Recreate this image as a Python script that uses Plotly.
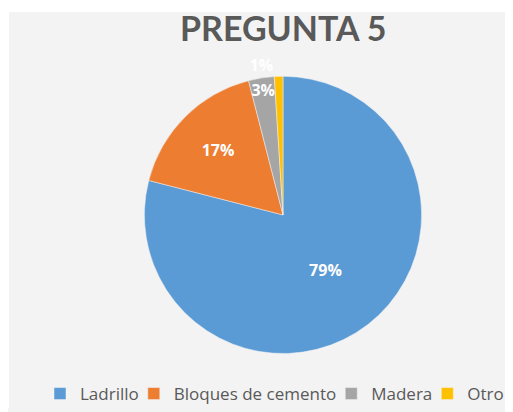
import plotly.graph_objects as go

categorias = ["Ladrillo", "Bloques de cemento", "Madera", "Otro"]
valores = [79, 17, 3, 1]
colores = ["#5B9BD5", "#ED7D31", "#A5A5A5", "#FFC000"]

# the page body adds an 8px margin, so the figure is 8px smaller than the window
W, H = 505, 404

fig = go.Figure()
fig.add_trace(go.Pie(
    labels=categorias,
    values=valores,
    sort=False,
    direction="clockwise",
    rotation=0,
    marker=dict(colors=colores, line=dict(color="#f2f2f2", width=0.5)),
    textinfo="percent",
    texttemplate="%{percent:.0%}",
    textposition=["inside", "inside", "inside", "outside"],
    insidetextorientation="horizontal",
    textfont=dict(family="Open Sans", size=16, color="white", weight="bold"),
    domain=dict(x=[135 / W, 415 / W], y=[1 - 349 / H, 1 - 69 / H]),
    hoverinfo="label+percent",
))

fig.update_layout(
    width=W, height=H,
    margin=dict(l=0, r=0, t=0, b=0),
    paper_bgcolor="#f3f3f3",
    font=dict(family="Open Sans", color="#595959"),
    uniformtext=dict(minsize=16, mode="show"),
    showlegend=True,
    legend=dict(
        orientation="h",
        x=42 / W, xanchor="left",
        y=1 - 390 / H, yanchor="middle",
        font=dict(size=17, color="#595959"),
        itemwidth=30,
        indentation=-10,
        bgcolor="rgba(0,0,0,0)",
    ),
    annotations=[dict(
        text="<b>PREGUNTA 5</b>",
        x=275 / W, y=1 - 20 / H, xref="paper", yref="paper",
        xanchor="center", yanchor="middle", showarrow=False,
        font=dict(family="Lato", size=34, color="#595959"),
    )],
    shapes=[
        # white strip above and to the left of the chart area
        dict(type="rect", xref="paper", yref="paper", x0=0, x1=1, y0=1 - 4 / H, y1=1,
             fillcolor="white", line_width=0, layer="below"),
        dict(type="rect", xref="paper", yref="paper", x0=0, x1=1 / W, y0=0, y1=1,
             fillcolor="white", line_width=0, layer="below"),
    ],
)

fig.write_html("out.html")
